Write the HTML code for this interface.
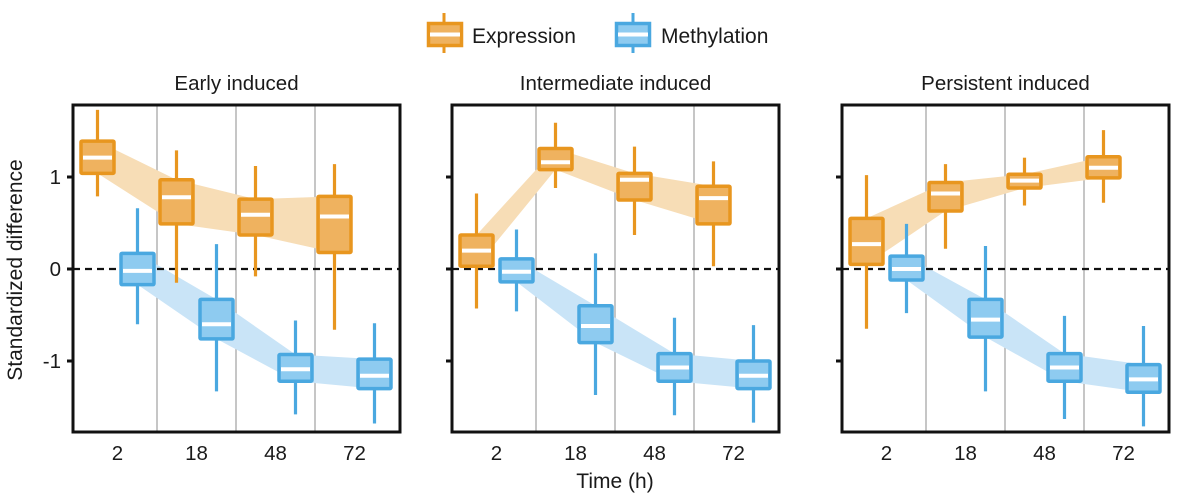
<!DOCTYPE html>
<html><head><meta charset="utf-8">
<style>
html,body{margin:0;padding:0;background:#fff;}
svg{display:block;font-family:"Liberation Sans",Arial,sans-serif;}
</style></head>
<body>
<svg id="chart" width="1200" height="501" viewBox="0 0 1200 501" xmlns="http://www.w3.org/2000/svg">
  <g>
    <g>
      <line x1="444" y1="13" x2="444" y2="53" stroke="#e8961f" stroke-width="3"/>
      <rect x="428.5" y="23.5" width="33" height="22" fill="#efb25f" stroke="#e8961f" stroke-width="3.5"/>
      <line x1="430" y1="34.5" x2="460" y2="34.5" stroke="#fff" stroke-width="4"/>
      <text x="472" y="43" font-size="21" fill="#1a1a1a">Expression</text>
    </g>
    <g>
      <line x1="633" y1="13" x2="633" y2="53" stroke="#4aa8e0" stroke-width="3"/>
      <rect x="616.5" y="23.5" width="33" height="22" fill="#8ecbf0" stroke="#4aa8e0" stroke-width="3.5"/>
      <line x1="618" y1="34.5" x2="648" y2="34.5" stroke="#fff" stroke-width="4"/>
      <text x="661" y="43" font-size="21" fill="#1a1a1a">Methylation</text>
    </g>
  </g>
  <text transform="translate(22,270) rotate(-90)" text-anchor="middle" font-size="21" fill="#1a1a1a">Standardized difference</text>
  <text x="615" y="488" text-anchor="middle" font-size="21" fill="#1a1a1a">Time (h)</text>
  <g id="panels"></g>
</svg>
<script>
// Data (values in standardized difference units)
const timepoints = ["2","18","48","72"];
const panelTitles = ["Early induced","Intermediate induced","Persistent induced"];
const yTicks = [1, 0, -1];
const yTickLabels = ["1","0","-1"];
// each entry: [whiskerHigh, q3, median, q1, whiskerLow]
const exprEarly = [[1.73,1.39,1.21,1.04,0.79],[1.29,0.97,0.78,0.49,-0.15],[1.12,0.76,0.59,0.37,-0.08],[1.14,0.79,0.57,0.18,-0.66]];
const methEarly = [[0.66,0.17,-0.02,-0.17,-0.60],[0.27,-0.33,-0.60,-0.76,-1.33],[-0.56,-0.93,-1.09,-1.22,-1.58],[-0.59,-0.98,-1.16,-1.30,-1.68]];
const exprInter = [[0.82,0.37,0.20,0.03,-0.43],[1.59,1.31,1.16,1.08,0.88],[1.33,1.04,0.97,0.75,0.37],[1.17,0.90,0.77,0.49,0.03]];
const methInter = [[0.43,0.11,-0.03,-0.14,-0.46],[0.17,-0.40,-0.62,-0.80,-1.37],[-0.53,-0.92,-1.07,-1.22,-1.59],[-0.61,-1.00,-1.16,-1.30,-1.67]];
const exprPers = [[1.02,0.55,0.27,0.05,-0.65],[1.14,0.94,0.82,0.63,0.22],[1.21,1.03,0.96,0.88,0.69],[1.51,1.22,1.10,0.99,0.72]];
const methPers = [[0.49,0.14,0.00,-0.12,-0.48],[0.25,-0.33,-0.55,-0.74,-1.33],[-0.51,-0.92,-1.07,-1.22,-1.63],[-0.62,-1.04,-1.20,-1.34,-1.71]];

const panelData = [[exprEarly, methEarly],[exprInter, methInter],[exprPers, methPers]];
const panelLeft = [73, 452, 842];
const panelTop = 105, panelBottom = 432, panelW = 327;
const y = v => 269 - v * 92;
const NS = "http://www.w3.org/2000/svg";
const root = document.getElementById("panels");
function mk(tag, attrs, parent){ const e=document.createElementNS(NS,tag); for(const k in attrs) e.setAttribute(k,attrs[k]); parent.appendChild(e); return e; }

const styles = [
  {stroke:"#e8961f", fill:"#efb25f", ribbon:"#f7ddb6", name:"expression"},
  {stroke:"#4aa8e0", fill:"#8ecbf0", ribbon:"#c9e4f7", name:"methylation"}
];

panelData.forEach((pd, p) => {
  const L = panelLeft[p];
  const cx = i => L + 44.5 + 79 * i;
  const g = mk("g", {}, root);
  
  
  const t = mk("text", {x: L + panelW/2, y: 90, "text-anchor":"middle", "font-size":"20.5", fill:"#1a1a1a"}, g);
  t.textContent = panelTitles[p];
  
  
  for (let i = 0; i < 3; i++) {
    const sx = L + 84 + 79 * i;
    const sl = mk("line", {x1:sx, y1:panelTop, x2:sx, y2:panelBottom, stroke:"#a8a8a8", "stroke-width":"1.3"}, g);
    
    
  }
  pd.forEach((series, s) => {
    const off = s === 0 ? -20 : 20;
    const pts = [];
    series.forEach((d, i) => pts.push((cx(i)+off) + "," + y(d[1])));
    for (let i = series.length - 1; i >= 0; i--) pts.push((cx(i)+off) + "," + y(series[i][3]));
    const r = mk("polygon", {points: pts.join(" "), fill: styles[s].ribbon}, g);
    
    
  });
  const z = mk("line", {x1:L, y1:y(0), x2:L+panelW, y2:y(0), stroke:"#111", "stroke-width":"2.2", "stroke-dasharray":"7,5"}, g);
  
  
  pd.forEach((series, s) => {
    const off = s === 0 ? -20 : 20;
    const st = styles[s];
    series.forEach((d, i) => {
      const x = cx(i) + off;
      const bg = mk("g", {}, g);
      
      
      mk("line", {x1:x, y1:y(d[0]), x2:x, y2:y(d[4]), stroke:st.stroke, "stroke-width":"3.2"}, bg);
      mk("rect", {x:x-16.5, y:y(d[1]), width:33, height:y(d[3])-y(d[1]), fill:st.fill, stroke:st.stroke, "stroke-width":"3.5", rx:"1"}, bg);
      mk("line", {x1:x-14.5, y1:y(d[2]), x2:x+14.5, y2:y(d[2]), stroke:"#fff", "stroke-width":"4"}, bg);
    });
  });
  const fr = mk("rect", {x:L, y:panelTop, width:panelW, height:panelBottom-panelTop, fill:"none", stroke:"#111", "stroke-width":"3"}, g);
  
  
  yTicks.forEach((v, k) => {
    const tk = mk("line", {x1:L-6, y1:y(v), x2:L, y2:y(v), stroke:"#111", "stroke-width":"3"}, g);
    
    
    if (p === 0) {
      const tl = mk("text", {x:L-12, y:y(v)+7, "text-anchor":"end", "font-size":"20.5", fill:"#1a1a1a"}, g);
      tl.textContent = yTickLabels[k];
      
      
    }
  });
  timepoints.forEach((tp, i) => {
    const xl = mk("text", {x:cx(i), y:460, "text-anchor":"middle", "font-size":"20.5", fill:"#1a1a1a"}, g);
    xl.textContent = tp;
    
    
  });
});
</script>
</body></html>
